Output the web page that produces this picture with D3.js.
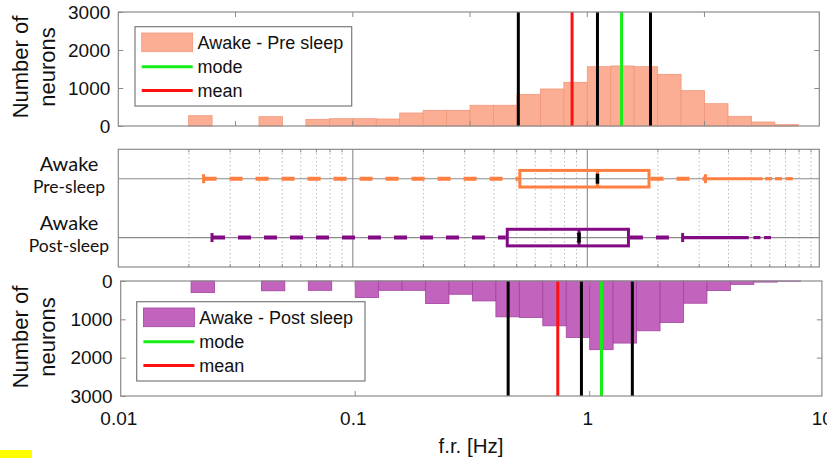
<!DOCTYPE html>
<html><head><meta charset="utf-8">
<script src="https://cdn.jsdelivr.net/npm/d3@7"></script>
<style>body{margin:0;background:#fff}svg{display:block}</style>
</head><body>
<svg id="c" width="827" height="458"></svg>
<script>
// ---------- data ----------
const binStartsLog = [-1.7,-1.6,-1.5,-1.4,-1.3,-1.2,-1.1,-1.0,-0.9,-0.8,-0.7,-0.6,-0.5,-0.4,-0.3,-0.2,-0.1,0.0,0.1,0.2,0.3,0.4,0.5,0.6,0.7,0.8];
const binWidthLog = 0.1;
const countsPre  = [271,0,0,245,0,176,192,192,184,342,413,413,545,545,834,974,1150,1560,1580,1560,1360,930,587,255,105,35];
const countsPost = [303,0,0,256,0,243,0,433,243,243,589,346,520,935,952,1169,1472,1792,1619,1299,1082,580,251,87,28,6];
const yTicks = [0,1000,2000,3000];
const xTickLabels = [0.01,0.1,1,10];
const topPanelTicks = [0.0316,0.1,0.316,1,3.16];
const bottomPanelTicks = [0.1,1];
const gridDecades = [0.01,0.1,1];
const gridMultipliers = [2,3,4,5,6,7,8,9];
const rowKeys = ["pre","post"];
const rowTitles = ["Awake","Awake"];
const rowSubtitles = ["Pre-sleep","Post-sleep"];
// box stats: [whiskerLow, Q1, median, Q3, whiskerHigh]
const boxPre  = [0.0231,0.508,1.105,1.86,3.19];
const boxPost = [0.0251,0.449,0.922,1.52,2.55];
const meanPre = 0.861, modePre = 1.40;
const meanPost = 0.731, modePost = 1.123;
// outliers: dense run end and sparse points
const outDenseEndPre = 5.6,  outSparsePre  = [5.93,6.54,7.27];
const outDenseEndPost = 4.88, outSparsePost = [5.29,5.87];
const legendTop = ["Awake - Pre sleep","mode","mean"];
const legendBottom = ["Awake - Post sleep","mode","mean"];

// ---------- styles ----------
const C = {
  preFill:"#fbae94", preEdge:"#f19779",
  postFill:"#c264bd", postEdge:"#a243a0",
  orange:"#ff7f40", purple:"#820a82",
  frame:"#8a8a8a", green:"#14ee14", red:"#ff1010"
};
const FONT = "'Liberation Sans', Arial, Helvetica, sans-serif";
const svg = d3.select("#c");

// ---------- scales ----------
const dec = 234.5;
const x  = d3.scaleLog().domain([0.01,10]).range([118.3, 118.3+3*dec]);
const xb = d3.scaleLog().domain([0.01,10]).range([120.7, 120.7+3*dec]);
const frameR = 819.3, frameRb = 821.9;
const yTop = d3.scaleLinear().domain([0,3000]).range([126,12]);
const yBot = d3.scaleLinear().domain([0,3000]).range([281,396]);
const yMid = d3.scalePoint().domain(rowKeys).range([149.3,267]).padding(0.5);

// ---------- helpers ----------
function frame(x0,x1,y0,y1){
  svg.append("rect").attr("x",x0).attr("y",y0).attr("width",x1-x0).attr("height",y1-y0)
    .attr("fill","none").attr("stroke",C.frame).attr("stroke-width",1.2);
}
function hist(xs, ys, counts, fill, edge){
  const g = svg.append("g");
  binStartsLog.forEach((s,i)=>{
    if(!counts[i]) return;
    const x0 = xs(Math.pow(10,s)), x1 = xs(Math.pow(10,s+binWidthLog));
    const ya = ys(0), yb = ys(counts[i]);
    g.append("rect").attr("x",x0).attr("width",x1-x0)
      .attr("y",Math.min(ya,yb)).attr("height",Math.abs(yb-ya))
      .attr("fill",fill).attr("stroke",edge).attr("stroke-width",0.8);
  });
}
function vline(xs, v, y0, y1, color){
  svg.append("line").attr("x1",xs(v)).attr("x2",xs(v)).attr("y1",y0).attr("y2",y1)
    .attr("stroke",color).attr("stroke-width",3);
}
function yAxis(ys, x0, x1){
  const gl = svg.append("g").attr("transform",`translate(${x0},0)`)
    .call(d3.axisLeft(ys).tickValues(yTicks).tickSizeInner(-5).tickSizeOuter(0).tickPadding(8).tickFormat(d3.format("d")));
  gl.select(".domain").remove();
  gl.selectAll("line").attr("stroke",C.frame);
  gl.selectAll("text").attr("font-family",FONT).attr("font-size",19).attr("fill","#111");
  const gr = svg.append("g").attr("transform",`translate(${x1},0)`)
    .call(d3.axisRight(ys).tickValues(yTicks.slice(1,3)).tickSizeInner(-5).tickSizeOuter(0).tickFormat(""));
  gr.select(".domain").remove();
  gr.selectAll("line").attr("stroke",C.frame);
}
function xTicksInside(xs, vals, yTopEdge, yBottomEdge, len){
  vals.forEach(v=>{
    svg.append("line").attr("x1",xs(v)).attr("x2",xs(v)).attr("y1",yBottomEdge).attr("y2",yBottomEdge-len).attr("stroke",C.frame);
    svg.append("line").attr("x1",xs(v)).attr("x2",xs(v)).attr("y1",yTopEdge).attr("y2",yTopEdge+len).attr("stroke",C.frame);
  });
}
function yTitle(cy){
  const t = svg.append("text").attr("transform",`translate(28,${cy}) rotate(-90)`)
    .attr("text-anchor","middle").attr("font-family",FONT).attr("font-size",22).attr("fill","#111");
  t.append("tspan").attr("x",0).attr("dy",0).text("Number of");
  t.append("tspan").attr("x",0).attr("dy",27).text("neurons");
}
function legend(ox, oy, w, labels, fill, edge){
  const g = svg.append("g").attr("transform",`translate(${ox},${oy})`);
  g.append("rect").attr("width",w).attr("height",79.3).attr("fill","#fff").attr("stroke","#7a7a7a").attr("stroke-width",1.2);
  g.append("rect").attr("x",6.7).attr("y",6.3).attr("width",51).attr("height",18.7).attr("fill",fill).attr("stroke",edge).attr("stroke-width",0.8);
  const rowsY = [15.6,40,63.8];
  g.append("line").attr("x1",6.7).attr("x2",57.7).attr("y1",rowsY[1]).attr("y2",rowsY[1]).attr("stroke",C.green).attr("stroke-width",3);
  g.append("line").attr("x1",6.7).attr("x2",57.7).attr("y1",rowsY[2]).attr("y2",rowsY[2]).attr("stroke",C.red).attr("stroke-width",3);
  labels.forEach((l,i)=>{
    g.append("text").attr("x",62.5).attr("y",rowsY[i]).attr("dy","0.35em")
      .attr("font-family",FONT).attr("font-size",18).attr("fill","#111").text(l);
  });
}

// ---------- top panel ----------
hist(x, yTop, countsPre, C.preFill, C.preEdge);
[boxPre[1],boxPre[2],boxPre[3]].forEach(v=>vline(x,v,12,126,"#000"));
vline(x, meanPre, 12, 126, C.red);
vline(x, modePre, 12, 126, C.green);
frame(118.3, frameR, 12, 126);
xTicksInside(x, topPanelTicks, 12, 126, 5);
yAxis(yTop, 118.3, frameR);
yTitle(67);
legend(135, 26.7, 216.7, legendTop, C.preFill, C.preEdge);

// ---------- bottom panel ----------
hist(xb, yBot, countsPost, C.postFill, C.postEdge);
[boxPost[1],boxPost[2],boxPost[3]].forEach(v=>vline(xb,v,281,396,"#000"));
vline(xb, meanPost, 281, 396, C.red);
vline(xb, modePost, 281, 396, C.green);
frame(120.7, frameRb, 281, 396);
xTicksInside(xb, bottomPanelTicks, 281, 396, 5);
yAxis(yBot, 120.7, frameRb);
yTitle(337);
legend(136.7, 301.7, 228.3, legendBottom, C.postFill, C.postEdge);

// x axis labels
const gx = svg.append("g").attr("transform","translate(0,411)")
  .call(d3.axisBottom(x).tickValues(xTickLabels).tickSize(0).tickPadding(0).tickFormat(d=>String(d)));
gx.select(".domain").remove();
gx.selectAll("text").attr("font-family",FONT).attr("font-size",19).attr("fill","#111");
svg.append("text").attr("x",471).attr("y",452.5).attr("text-anchor","middle")
  .attr("font-family",FONT).attr("font-size",20.5).attr("fill","#111").text("f.r. [Hz]");

// ---------- middle panel ----------
const midTop = 149.3, midBot = 267;
gridDecades.forEach(d=>gridMultipliers.forEach(m=>{
  const v = d*m;
  svg.append("line").attr("x1",x(v)).attr("x2",x(v)).attr("y1",midTop).attr("y2",midBot)
    .attr("stroke","#9a9a9a").attr("stroke-width",1).attr("stroke-dasharray","1,3");
}));
xTicksInside(x, gridDecades.flatMap(d=>gridMultipliers.map(m=>d*m)), midTop, midBot, 3);
[0.1,1].forEach(v=>{
  svg.append("line").attr("x1",x(v)).attr("x2",x(v)).attr("y1",midTop).attr("y2",midBot)
    .attr("stroke","#8a8a8a").attr("stroke-width",1.1);
});
rowKeys.forEach(k=>{
  svg.append("line").attr("x1",118.3).attr("x2",frameR).attr("y1",yMid(k)).attr("y2",yMid(k))
    .attr("stroke","#8a8a8a").attr("stroke-width",1.1);
});
frame(118.3, frameR, midTop, midBot);

function boxRow(k, st, color, denseEnd, sparse){
  const cy = yMid(k);
  const g = svg.append("g");
  // whiskers
  g.append("line").attr("x1",x(st[0])).attr("x2",x(st[1])).attr("y1",cy).attr("y2",cy)
    .attr("stroke",color).attr("stroke-width",4).attr("stroke-dasharray","13,13");
  g.append("line").attr("x1",x(st[3])).attr("x2",x(st[4])).attr("y1",cy).attr("y2",cy)
    .attr("stroke",color).attr("stroke-width",4).attr("stroke-dasharray","13,13");
  [st[0],st[4]].forEach(v=>{
    g.append("line").attr("x1",x(v)).attr("x2",x(v)).attr("y1",cy-4.5).attr("y2",cy+4.5)
      .attr("stroke",color).attr("stroke-width",3);
  });
  // outliers
  g.append("line").attr("x1",x(st[4])).attr("x2",x(denseEnd)).attr("y1",cy).attr("y2",cy)
    .attr("stroke",color).attr("stroke-width",3.2);
  sparse.forEach(v=>{
    g.append("line").attr("x1",x(v)-3.5).attr("x2",x(v)+3.5).attr("y1",cy).attr("y2",cy)
      .attr("stroke",color).attr("stroke-width",3.2);
  });
  // box
  g.append("rect").attr("x",x(st[1])+1.5).attr("width",x(st[3])-x(st[1])-3)
    .attr("y",cy-8.3).attr("height",16.6).attr("fill","none").attr("stroke",color).attr("stroke-width",3);
  g.append("line").attr("x1",x(st[2])).attr("x2",x(st[2])).attr("y1",cy-8.3).attr("y2",cy+8.3)
    .attr("stroke",color).attr("stroke-width",3);
  g.append("line").attr("x1",x(st[2])).attr("x2",x(st[2])).attr("y1",cy-5).attr("y2",cy+5)
    .attr("stroke","#000").attr("stroke-width",3.5);
}
boxRow("pre", boxPre, C.orange, outDenseEndPre, outSparsePre);
boxRow("post", boxPost, C.purple, outDenseEndPost, outSparsePost);

rowKeys.forEach((k,i)=>{
  const cy = yMid(k);
  svg.append("text").attr("x",69).attr("y",cy-7.5).attr("text-anchor","middle")
    .attr("font-family","Lato, 'Open Sans', sans-serif").attr("font-size",20).attr("fill","#111").text(rowTitles[i]);
  svg.append("text").attr("x",69).attr("y",cy+14).attr("text-anchor","middle")
    .attr("font-family","Lato, 'Open Sans', sans-serif").attr("font-size",17.5).attr("fill","#111").text(rowSubtitles[i]);
});

// highlight mark bottom-left
svg.append("rect").attr("x",0).attr("y",450).attr("width",32).attr("height",8).attr("fill","#ffff00");
</script>
</body></html>
